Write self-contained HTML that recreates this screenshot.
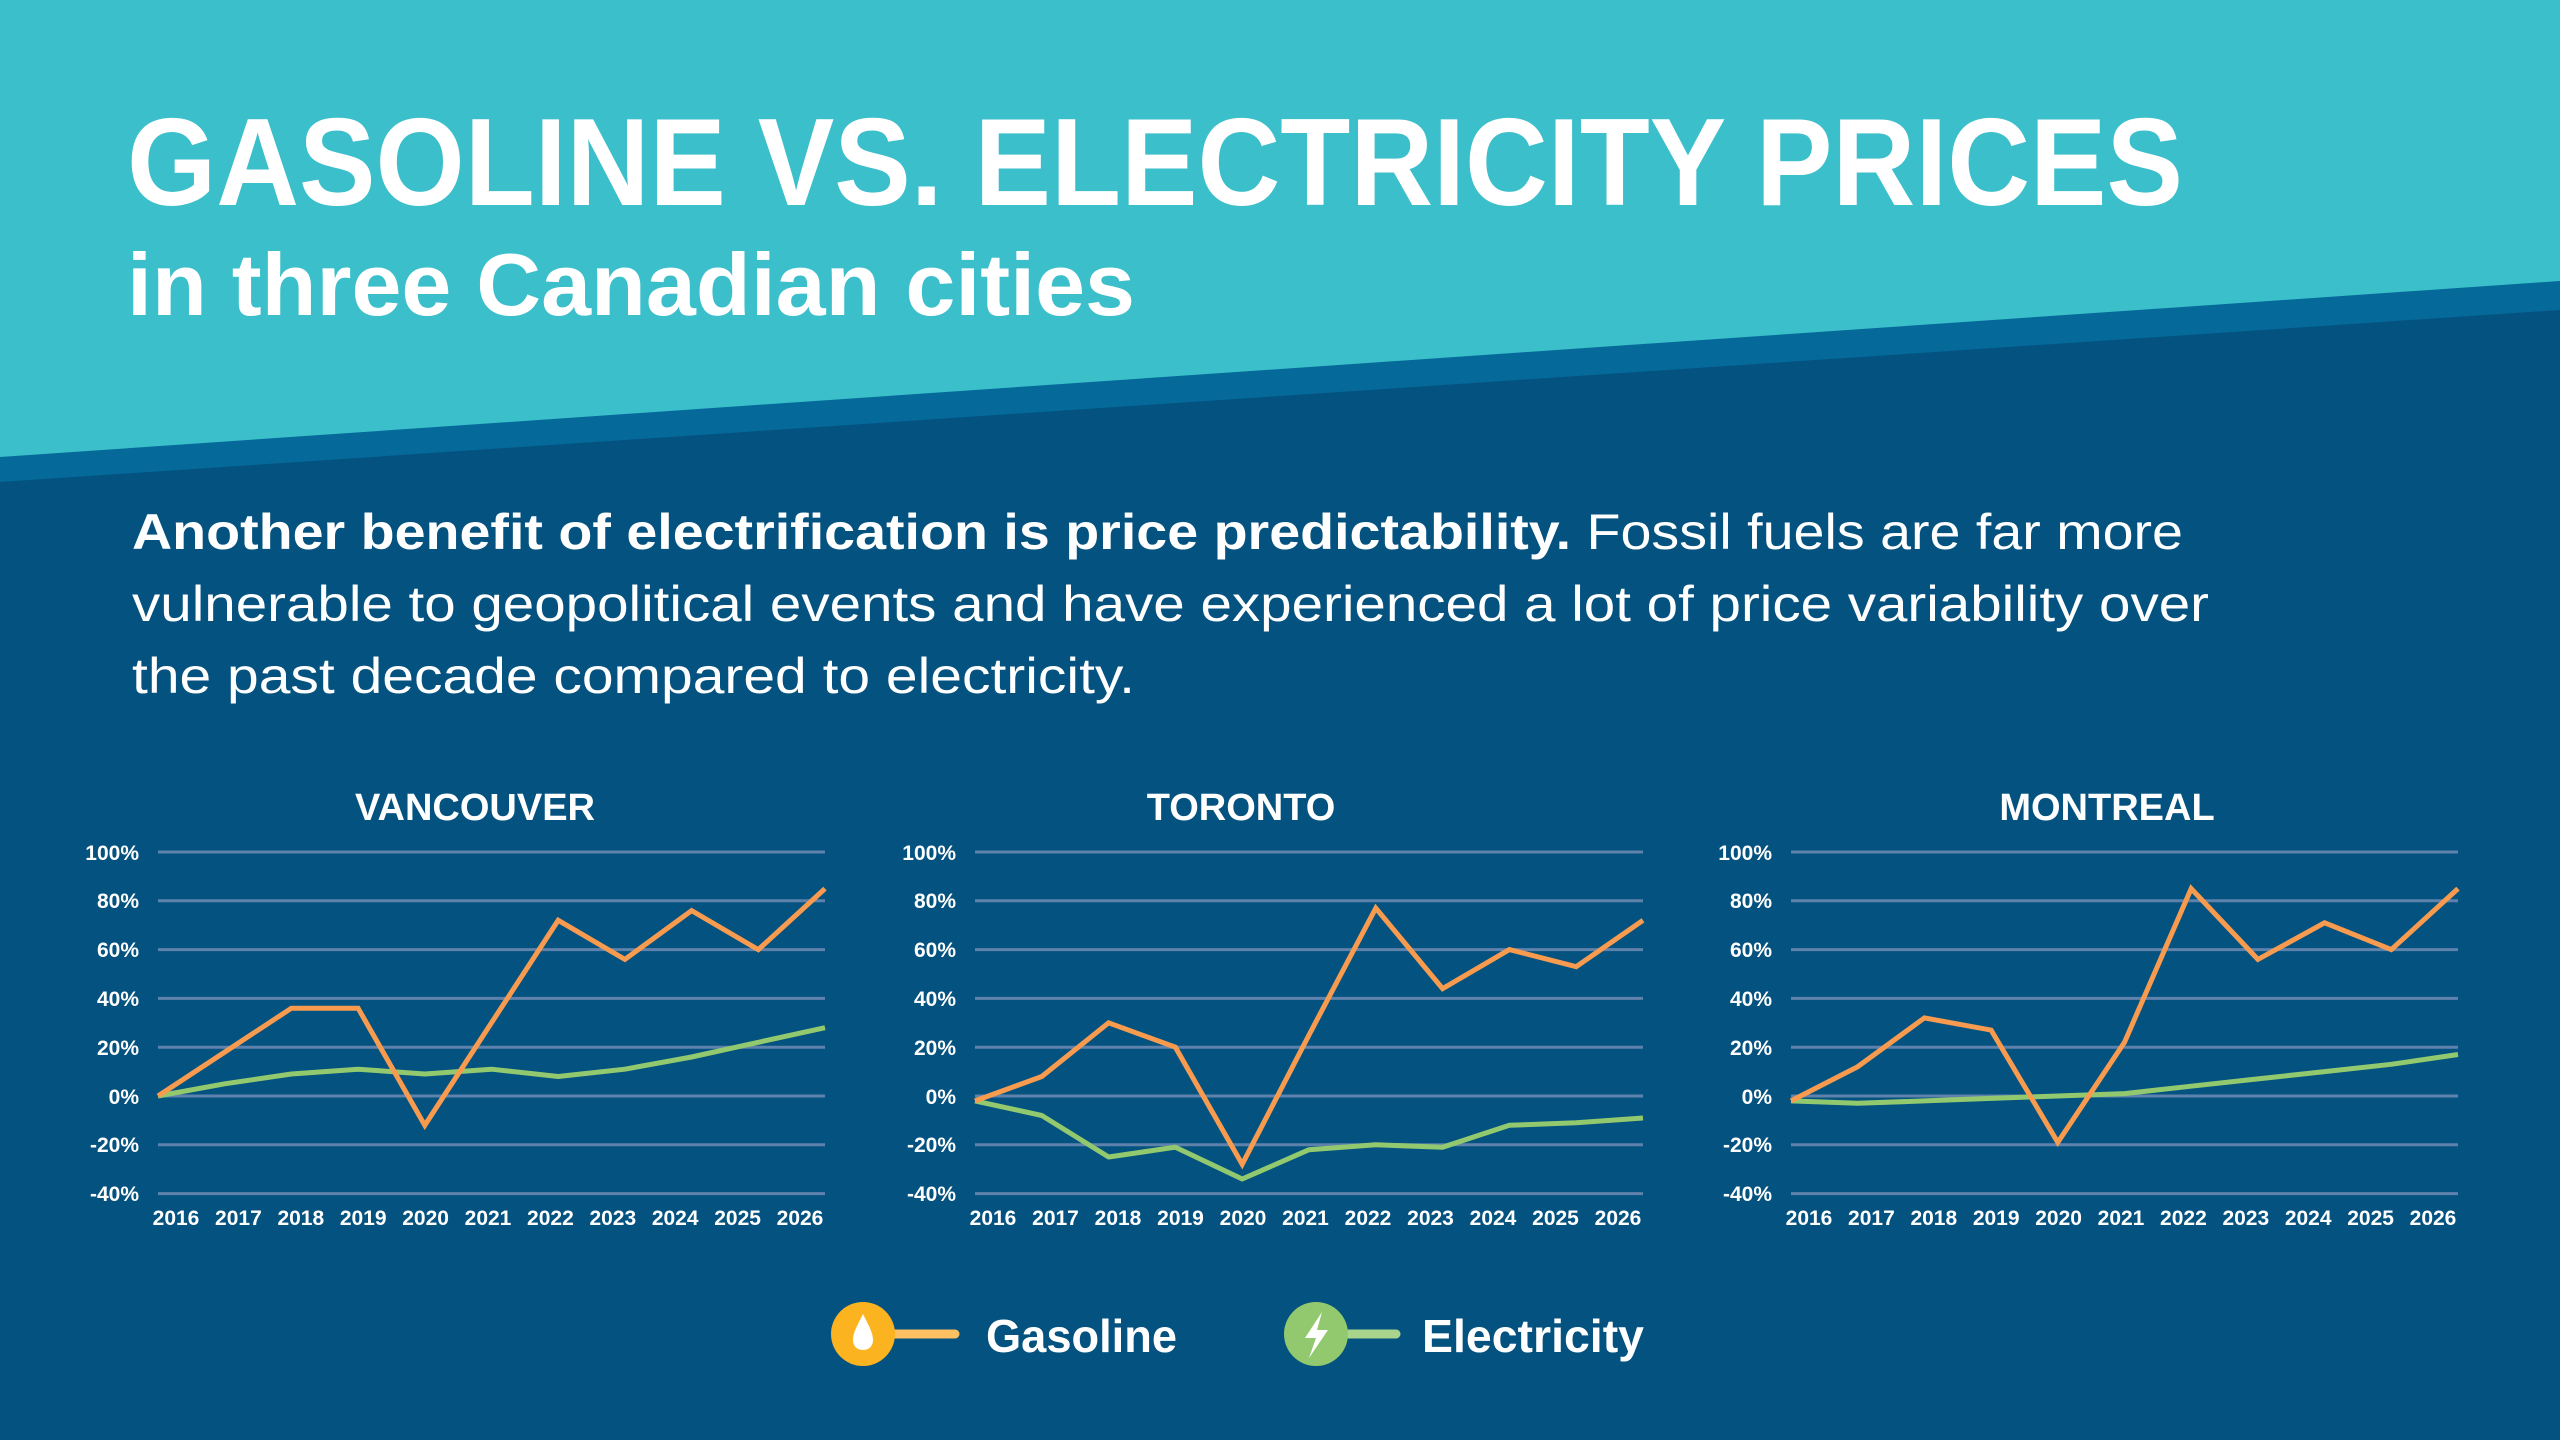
<!DOCTYPE html>
<html><head><meta charset="utf-8"><style>
html,body{margin:0;padding:0;background:#04527f;}
svg{display:block;}
text{font-family:"Liberation Sans",sans-serif;fill:#fff;}
.ax{font-size:21px;font-weight:bold;text-anchor:end;}
.yr{font-size:21px;font-weight:bold;text-anchor:middle;}
.tt{font-size:38px;font-weight:bold;text-anchor:middle;}
.g line{stroke:#5f82ad;stroke-width:3;}
.gas{fill:none;stroke:#f89b4f;stroke-width:5;stroke-linejoin:miter;}
.el{fill:none;stroke:#93c96e;stroke-width:5;stroke-linejoin:round;}
</style></head><body>
<svg width="2560" height="1440" viewBox="0 0 2560 1440" xmlns="http://www.w3.org/2000/svg">
<rect width="2560" height="1440" fill="#04527f"/>
<polygon points="0,0 2560,0 2560,310 0,482" fill="#05699a"/>
<polygon points="0,0 2560,0 2560,281 0,457" fill="#3bbfcb"/>

<text x="127" y="205" font-size="124" font-weight="bold" textLength="2056" lengthAdjust="spacingAndGlyphs">GASOLINE VS. ELECTRICITY PRICES</text>
<text x="127" y="315" font-size="88" font-weight="bold" textLength="1008" lengthAdjust="spacingAndGlyphs">in three Canadian cities</text>

<text x="132" y="549" font-size="50" textLength="2051" lengthAdjust="spacingAndGlyphs"><tspan font-weight="bold">Another benefit of electrification is price predictability.</tspan> Fossil fuels are far more</text>
<text x="132" y="621" font-size="50" textLength="2077" lengthAdjust="spacingAndGlyphs">vulnerable to geopolitical events and have experienced a lot of price variability over</text>
<text x="132" y="693" font-size="50" textLength="1003" lengthAdjust="spacingAndGlyphs">the past decade compared to electricity.</text>

<!-- Vancouver -->
<text class="tt" x="475" y="820">VANCOUVER</text>
<g class="g"><line x1="158" x2="825" y1="852" y2="852"/><line x1="158" x2="825" y1="900.8" y2="900.8"/><line x1="158" x2="825" y1="949.6" y2="949.6"/><line x1="158" x2="825" y1="998.4" y2="998.4"/><line x1="158" x2="825" y1="1047.2" y2="1047.2"/><line x1="158" x2="825" y1="1096" y2="1096"/><line x1="158" x2="825" y1="1144.8" y2="1144.8"/><line x1="158" x2="825" y1="1193.6" y2="1193.6"/></g>
<g class="ax"><text x="139" y="860">100%</text><text x="139" y="908">80%</text><text x="139" y="957">60%</text><text x="139" y="1006">40%</text><text x="139" y="1055">20%</text><text x="139" y="1104">0%</text><text x="139" y="1152">-20%</text><text x="139" y="1201">-40%</text></g>
<g class="yr"><text x="176" y="1225">2016</text><text x="238.4" y="1225">2017</text><text x="300.8" y="1225">2018</text><text x="363.2" y="1225">2019</text><text x="425.6" y="1225">2020</text><text x="488" y="1225">2021</text><text x="550.4" y="1225">2022</text><text x="612.8" y="1225">2023</text><text x="675.2" y="1225">2024</text><text x="737.6" y="1225">2025</text><text x="800" y="1225">2026</text></g>
<polyline class="el" points="158,1096 224.7,1083.8 291.4,1074 358.1,1069.2 424.8,1074 491.5,1069.2 558.2,1076.5 624.9,1069.2 691.6,1057 758.3,1042.3 825,1027.7"/>
<polyline class="gas" points="158,1096 224.7,1052.1 291.4,1008.2 358.1,1008.2 424.8,1125.3 491.5,1022.8 558.2,920.3 624.9,959.4 691.6,910.6 758.3,949.6 825,888.6"/>

<!-- Toronto -->
<text class="tt" x="1241" y="820">TORONTO</text>
<g class="g"><line x1="975" x2="1643" y1="852" y2="852"/><line x1="975" x2="1643" y1="900.8" y2="900.8"/><line x1="975" x2="1643" y1="949.6" y2="949.6"/><line x1="975" x2="1643" y1="998.4" y2="998.4"/><line x1="975" x2="1643" y1="1047.2" y2="1047.2"/><line x1="975" x2="1643" y1="1096" y2="1096"/><line x1="975" x2="1643" y1="1144.8" y2="1144.8"/><line x1="975" x2="1643" y1="1193.6" y2="1193.6"/></g>
<g class="ax"><text x="956" y="860">100%</text><text x="956" y="908">80%</text><text x="956" y="957">60%</text><text x="956" y="1006">40%</text><text x="956" y="1055">20%</text><text x="956" y="1104">0%</text><text x="956" y="1152">-20%</text><text x="956" y="1201">-40%</text></g>
<g class="yr"><text x="993" y="1225">2016</text><text x="1055.5" y="1225">2017</text><text x="1118" y="1225">2018</text><text x="1180.5" y="1225">2019</text><text x="1243" y="1225">2020</text><text x="1305.5" y="1225">2021</text><text x="1368" y="1225">2022</text><text x="1430.5" y="1225">2023</text><text x="1493" y="1225">2024</text><text x="1555.5" y="1225">2025</text><text x="1618" y="1225">2026</text></g>
<polyline class="el" points="975,1100.9 1041.8,1115.5 1108.6,1157 1175.4,1147.2 1242.2,1179 1309,1149.7 1375.8,1144.8 1442.6,1147.2 1509.4,1125.3 1576.2,1122.8 1643,1118"/>
<polyline class="gas" points="975,1100.9 1041.8,1076.5 1108.6,1022.8 1175.4,1047.2 1242.2,1164.3 1309,1035 1375.8,908.1 1442.6,988.6 1509.4,949.6 1576.2,966.7 1643,920.3"/>

<!-- Montreal -->
<text class="tt" x="2107" y="820">MONTREAL</text>
<g class="g"><line x1="1791" x2="2458" y1="852" y2="852"/><line x1="1791" x2="2458" y1="900.8" y2="900.8"/><line x1="1791" x2="2458" y1="949.6" y2="949.6"/><line x1="1791" x2="2458" y1="998.4" y2="998.4"/><line x1="1791" x2="2458" y1="1047.2" y2="1047.2"/><line x1="1791" x2="2458" y1="1096" y2="1096"/><line x1="1791" x2="2458" y1="1144.8" y2="1144.8"/><line x1="1791" x2="2458" y1="1193.6" y2="1193.6"/></g>
<g class="ax"><text x="1772" y="860">100%</text><text x="1772" y="908">80%</text><text x="1772" y="957">60%</text><text x="1772" y="1006">40%</text><text x="1772" y="1055">20%</text><text x="1772" y="1104">0%</text><text x="1772" y="1152">-20%</text><text x="1772" y="1201">-40%</text></g>
<g class="yr"><text x="1809" y="1225">2016</text><text x="1871.4" y="1225">2017</text><text x="1933.8" y="1225">2018</text><text x="1996.2" y="1225">2019</text><text x="2058.6" y="1225">2020</text><text x="2121" y="1225">2021</text><text x="2183.4" y="1225">2022</text><text x="2245.8" y="1225">2023</text><text x="2308.2" y="1225">2024</text><text x="2370.6" y="1225">2025</text><text x="2433" y="1225">2026</text></g>
<polyline class="el" points="1791,1100.9 1857.7,1103.3 1924.4,1100.9 1991.1,1098.4 2057.8,1096 2124.5,1093.6 2191.2,1086.2 2257.9,1078.9 2324.6,1071.6 2391.3,1064.3 2458,1054.5"/>
<polyline class="gas" points="1791,1100.9 1857.7,1066.7 1924.4,1017.9 1991.1,1030.1 2057.8,1142.4 2124.5,1042.3 2191.2,888.6 2257.9,959.4 2324.6,922.8 2391.3,949.6 2458,888.6"/>

<!-- Legend -->
<line x1="880" y1="1334" x2="955" y2="1334" stroke="#fcc062" stroke-width="9" stroke-linecap="round"/>
<circle cx="863" cy="1334" r="32" fill="#fbb320"/>
<path d="M863 1314 C857 1326 853 1333 853 1340 C853 1347 858 1350 863 1350 C868 1350 873 1347 873 1340 C873 1333 869 1326 863 1314Z" fill="#fff"/>
<text x="986" y="1352" font-size="46" font-weight="bold" textLength="191" lengthAdjust="spacingAndGlyphs">Gasoline</text>
<line x1="1330" y1="1334" x2="1396" y2="1334" stroke="#a9d48c" stroke-width="9" stroke-linecap="round"/>
<circle cx="1316" cy="1334" r="32" fill="#93c96e"/>
<path d="M1322 1312 L1305 1338 L1316 1338 L1309 1358 L1328 1330 L1317 1330 Z" fill="#fff"/>
<text x="1422" y="1352" font-size="46" font-weight="bold" textLength="222" lengthAdjust="spacingAndGlyphs">Electricity</text>
</svg>
</body></html>
